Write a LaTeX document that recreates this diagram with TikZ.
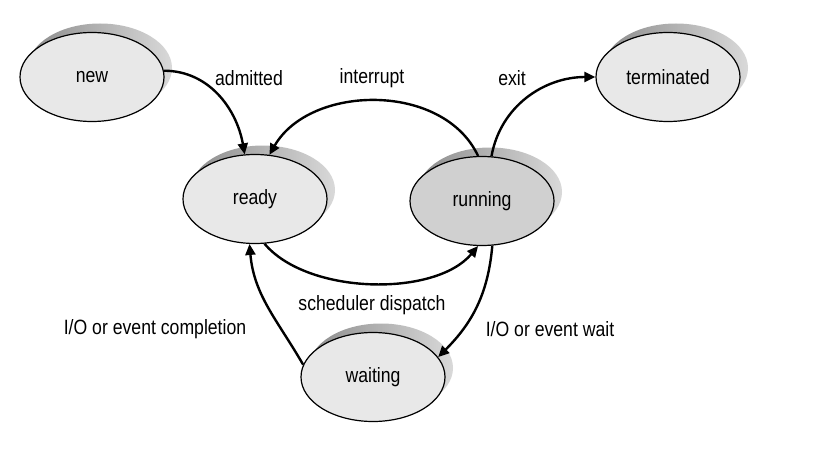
\documentclass[tikz,border=0pt]{standalone}
\usepackage{graphicx}
\usepackage{fontspec}
\setmainfont{Liberation Sans}
\usetikzlibrary{shapes.geometric, arrows.meta, shadows}

% tall narrow lettering
\newcommand{\tallt}[1]{\scalebox{0.98}[1.15]{#1}}

\tikzset{
  proc/.style={ellipse, draw=black, line width=1.2pt, fill=gray!18,
    minimum width=144pt, minimum height=89pt, inner sep=0pt,
    font=\fontsize{18}{20}\selectfont,
    general shadow={shadow xshift=8pt, shadow yshift=9pt,
      left color=gray!90, right color=gray!30, draw=none}},
  trans/.style={line width=2.4pt, -{Triangle[length=11pt,width=10pt]}},
  lbl/.style={font=\fontsize{18}{20}\selectfont}
}

\begin{document}
\begin{tikzpicture}[x=1pt,y=1pt]
  \useasboundingbox (0,0) rectangle (818,467);

  \node[proc] (new) at (92,390) {\tallt{new}};
  \node[proc] (ready) at (255,268) {\tallt{ready}};
  \node[proc, fill=gray!37] (running) at (482,266) {\tallt{running}};
  \node[proc] (terminated) at (668,390) {\tallt{terminated}};
  \node[proc] (waiting) at (373,90) {\tallt{waiting}};

  \draw[trans] (new.5) to[out=0,in=100] (ready.103);
  \draw[trans] (running.95) to[out=115,in=60] (ready.72);
  \draw[trans] (running.78) to[out=80,in=180] (terminated.180);
  \draw[trans] (ready.-78) to[out=-50,in=-130,looseness=0.8] (running.-95);
  \draw[trans] (waiting.170) to[out=120,in=-85] (ready.-97);
  \draw[trans] (running.-77) to[out=-95,in=45] (waiting.17);

  \node[lbl] (l_adm) at (249,389) {\tallt{admitted}};
  \node[lbl] (l_int) at (372,389) {\tallt{interrupt}};
  \node[lbl] (l_exit) at (512,389) {\tallt{exit}};
  \node[lbl] (l_disp) at (372,162) {\tallt{scheduler dispatch}};
  \node[lbl] (l_comp) at (155,138) {\tallt{I/O or event completion}};
  \node[lbl] (l_wait) at (550,138) {\tallt{I/O or event wait}};
\end{tikzpicture}
\end{document}
